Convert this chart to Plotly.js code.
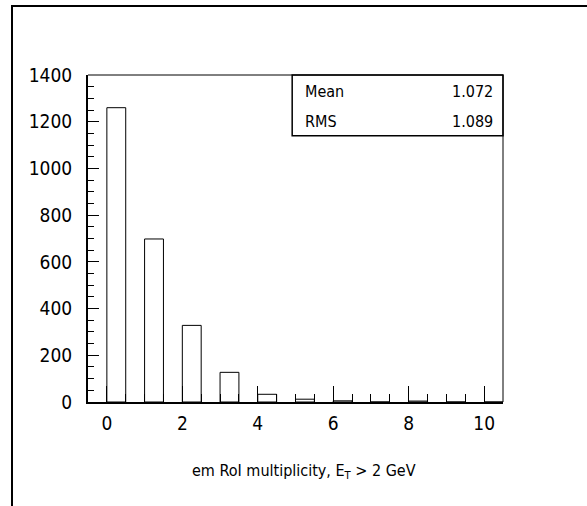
<!DOCTYPE html>
<html>
<head>
<meta charset="utf-8">
<script src="https://cdn.plot.ly/plotly-3.0.1.min.js"></script>
<style>
  html, body { margin: 0; padding: 0; background: #ffffff; }
  #wrap { position: relative; width: 587px; height: 506px; }
  #chart { position: absolute; left: 0; top: 0; width: 587px; height: 506px; }
  #frame { position: absolute; left: 11px; top: 5px; width: 576px; height: 501px;
           border-top: 2px solid #000; border-left: 2px solid #000; box-sizing: border-box;
           pointer-events: none; }
</style>
</head>
<body>
<div id="wrap">
  <div id="chart"></div>
  <div id="frame"></div>
</div>
<script>
// Histogram: em RoI multiplicity (bins start at integer k, width 0.5)
const binStarts = [0, 1, 2, 3, 4, 5, 6, 7, 8, 9, 10];
const counts    = [1260, 698, 328, 127, 33, 12, 5, 0, 4, 0, 0];
const statLabels = ["Mean", "RMS"];
const statValues = ["1.072", "1.089"];
const xTitle = "em RoI multiplicity, E<sub>T</sub> > 2 GeV";

const FONT = '"Liberation Sans Narrow", "DejaVu Sans Condensed", "Arial Narrow", sans-serif';

const trace = {
  type: 'bar',
  x: binStarts,
  y: counts,
  width: 0.5,
  offset: 0,
  marker: { color: '#ffffff', line: { color: '#000000', width: 1 } },
  hoverinfo: 'x+y'
};

const layout = {
  width: 587, height: 506,
  margin: { l: 88, r: 84, t: 75, b: 104 },
  paper_bgcolor: '#ffffff', plot_bgcolor: '#ffffff',
  showlegend: false,
  font: { family: FONT, color: '#000000' },
  bargap: 0,
  xaxis: {
    range: [-0.5, 10.5],
    tick0: 0, dtick: 2,
    ticks: 'inside', ticklen: 16, tickwidth: 1, tickcolor: '#000',
    minor: { tick0: 0, dtick: 0.5, ticks: 'inside', ticklen: 8, tickwidth: 1, tickcolor: '#000' },
    showline: true, linewidth: 2, linecolor: '#000',
    showgrid: false, zeroline: false,
    tickfont: { size: 19, family: FONT },
    ticklabelstandoff: 3
  },
  yaxis: {
    range: [0, 1400],
    tick0: 0, dtick: 200,
    ticks: 'inside', ticklen: 11, tickwidth: 1, tickcolor: '#000',
    minor: { tick0: 0, dtick: 50, ticks: 'inside', ticklen: 6, tickwidth: 1, tickcolor: '#000' },
    showline: true, linewidth: 2, linecolor: '#000',
    showgrid: false, zeroline: false,
    tickfont: { size: 19, family: FONT },
    ticklabelstandoff: 10
  },
  shapes: [
    { type: 'line', xref: 'paper', yref: 'paper', x0: 0, x1: 1, y0: 1, y1: 1, line: { color: '#000', width: 1 } },
    { type: 'line', xref: 'paper', yref: 'paper', x0: 1, x1: 1, y0: 0, y1: 1, line: { color: '#000', width: 1 } },
    { type: 'rect', xref: 'paper', yref: 'paper', x0: 0.492, x1: 1, y0: 0.814, y1: 1,
      line: { color: '#000', width: 1.5 }, fillcolor: 'rgba(255,255,255,0)' }
  ],
  annotations: [
    { xref: 'paper', yref: 'paper', x: 0.52, y: -0.214, xanchor: 'center', yanchor: 'middle',
      text: xTitle, showarrow: false, font: { size: 16, family: FONT } }
  ]
};

const rowY = [0.951, 0.857];
statLabels.forEach((lab, i) => {
  layout.annotations.push({ xref: 'paper', yref: 'paper', x: 0.517, y: rowY[i], xanchor: 'left', yanchor: 'middle',
    text: lab, showarrow: false, font: { size: 16, family: FONT } });
  layout.annotations.push({ xref: 'paper', yref: 'paper', x: 0.98, y: rowY[i], xanchor: 'right', yanchor: 'middle',
    text: statValues[i], showarrow: false, font: { size: 16, family: FONT } });
});

Plotly.newPlot('chart', [trace], layout, { staticPlot: true, displayModeBar: false });
</script>
</body>
</html>
